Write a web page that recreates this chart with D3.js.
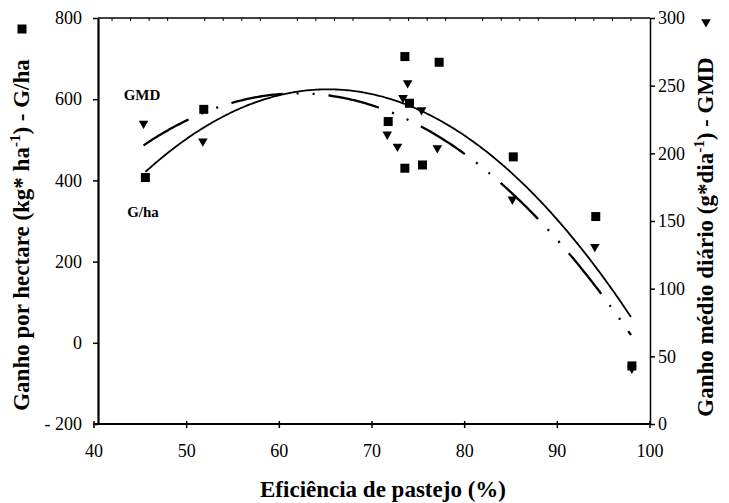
<!DOCTYPE html>
<html>
<head>
<meta charset="utf-8">
<script src="https://cdn.jsdelivr.net/npm/d3@7"></script>
<style>
  body { margin: 0; background: #fff; }
  svg text { font-family: "Liberation Serif", "Times New Roman", serif; fill: #000; }
  .axis path, .axis line { stroke: #000; }
</style>
</head>
<body>
<div id="chart"></div>
<script>
// G/ha (squares, left axis)
const ghaEficiencia = [45.6, 51.9, 73.6, 77.3, 74.1, 71.8, 73.6, 75.5, 85.3, 94.2, 98.1];
const ghaValores = [407, 575, 705, 691, 590, 545, 430, 438, 458, 311, -57];
// GMD (triangles, right axis)
const gmdEficiencia = [45.4, 51.8, 73.9, 73.4, 75.4, 71.7, 72.8, 77.1, 85.2, 94.1, 98.1];
const gmdValores = [222, 209, 252, 241, 232, 214, 205, 204, 166, 131, 41];

const xTicks = [40, 50, 60, 70, 80, 90, 100];
const yLeftTicks = [-200, 0, 200, 400, 600, 800];
const yRightTicks = [0, 50, 100, 150, 200, 250, 300];

// polinomial de 2a ordem (linha de tendencia)
function quadFit(xs, ys) {
  const s = [0, 0, 0, 0, 0], t = [0, 0, 0];
  xs.forEach((v, i) => {
    for (let k = 0; k < 5; k++) s[k] += Math.pow(v, k);
    for (let k = 0; k < 3; k++) t[k] += ys[i] * Math.pow(v, k);
  });
  const A = [[s[0], s[1], s[2], t[0]], [s[1], s[2], s[3], t[1]], [s[2], s[3], s[4], t[2]]];
  for (let i = 0; i < 3; i++) {
    for (let j = i + 1; j < 3; j++) {
      const f = A[j][i] / A[i][i];
      for (let k = i; k < 4; k++) A[j][k] -= f * A[i][k];
    }
  }
  const c = [0, 0, 0];
  for (let i = 2; i >= 0; i--) {
    let v = A[i][3];
    for (let k = i + 1; k < 3; k++) v -= A[i][k] * c[k];
    c[i] = v / A[i][i];
  }
  return v => c[0] + c[1] * v + c[2] * v * v;
}

const svg = d3.select('#chart').append('svg')
  .attr('width', 729).attr('height', 503);
svg.append('rect').attr('width', 729).attr('height', 503).attr('fill', '#fff');

const x = d3.scaleLinear().domain([40, 100]).range([93.5, 649.5]);
const yL = d3.scaleLinear().domain([-200, 800]).range([424, 18]);
const yR = d3.scaleLinear().domain([0, 300]).range([424, 18]);

// eixo x
const gx = svg.append('g').attr('class', 'axis')
  .attr('transform', 'translate(0,424)')
  .call(d3.axisBottom(x).tickValues(xTicks).tickSizeOuter(0).tickFormat(d => d));
gx.select('.domain').attr('stroke-width', 2).attr('d', `M${x(40)},0H${x(100)}`);
gx.selectAll('.tick line').attr('y1', -3).attr('y2', 4).attr('stroke-width', 1.5);
gx.selectAll('.tick text').attr('y', 20).attr('font-size', 18).attr('font-family', null);

// eixo esquerdo
const gl = svg.append('g').attr('class', 'axis')
  .attr('transform', 'translate(98,0)')
  .call(d3.axisLeft(yL).tickValues(yLeftTicks).tickSize(5).tickSizeOuter(0).tickPadding(11)
    .tickFormat(d => d < 0 ? '- ' + Math.abs(d) : d));
gl.select('.domain').attr('stroke-width', 2.2);
gl.selectAll('.tick line').attr('stroke-width', 1.5);
gl.selectAll('.tick text').attr('font-size', 18).attr('font-family', null);

// eixo direito
const gr = svg.append('g').attr('class', 'axis')
  .attr('transform', 'translate(650,0)')
  .call(d3.axisRight(yR).tickValues(yRightTicks).tickSize(5).tickSizeOuter(0).tickPadding(3));
gr.select('.domain').attr('stroke-width', 1.5);
gr.selectAll('.tick line').attr('stroke-width', 1.5);
gr.selectAll('.tick text').attr('font-size', 18).attr('font-family', null);

// borda superior com marcas secundarias
svg.append('line').attr('x1', 98).attr('x2', 650).attr('y1', 18).attr('y2', 18)
  .attr('stroke', '#000').attr('stroke-width', 1.5);
svg.selectAll('.minor')
  .data(d3.range(42, 100, 2).filter(v => v % 10 !== 0))
  .enter().append('line')
    .attr('class', 'minor')
    .attr('x1', d => x(d)).attr('x2', d => x(d))
    .attr('y1', 18).attr('y2', 21)
    .attr('stroke', '#000').attr('stroke-width', 1);

// linhas de tendencia
const fitGha = quadFit(ghaEficiencia, ghaValores);
const fitGmd = quadFit(gmdEficiencia, gmdValores);
const xsGha = d3.range(d3.min(ghaEficiencia), d3.max(ghaEficiencia) + 0.01, 0.2);
const xsGmd = d3.range(d3.min(gmdEficiencia), d3.max(gmdEficiencia) + 0.01, 0.2);

svg.append('path')
  .attr('d', d3.line().x(d => x(d)).y(d => yL(fitGha(d)))(xsGha))
  .attr('fill', 'none').attr('stroke', '#000').attr('stroke-width', 1.8);

svg.append('path')
  .attr('d', d3.line().x(d => x(d)).y(d => yR(fitGmd(d)))(xsGmd))
  .attr('fill', 'none').attr('stroke', '#000').attr('stroke-width', 2.3)
  .attr('stroke-dasharray', '52 14 2 14 2 14');

// pontos
const tri = d3.symbol().type(d3.symbolTriangle).size(40);
svg.selectAll('.gmd')
  .data(gmdEficiencia)
  .enter().append('path')
    .attr('class', 'gmd')
    .attr('d', tri)
    .attr('transform', (d, i) => `translate(${x(d)},${yR(gmdValores[i])}) rotate(180)`)
    .attr('fill', '#000');

svg.selectAll('.gha')
  .data(ghaEficiencia)
  .enter().append('rect')
    .attr('class', 'gha')
    .attr('x', d => x(d) - 4.5)
    .attr('y', (d, i) => yL(ghaValores[i]) - 4.5)
    .attr('width', 9).attr('height', 9)
    .attr('fill', '#000');

// rotulos das curvas
svg.append('text').attr('x', 142).attr('y', 100).attr('text-anchor', 'middle')
  .attr('font-size', 15).attr('font-weight', 'bold').text('GMD');
svg.append('text').attr('x', 143).attr('y', 217).attr('text-anchor', 'middle')
  .attr('font-size', 15).attr('font-weight', 'bold').text('G/ha');

// titulos
svg.append('text').attr('x', 383).attr('y', 497).attr('text-anchor', 'middle')
  .attr('font-size', 23).attr('font-weight', 'bold').text('Eficiência de pastejo (%)');

const tl = svg.append('text').attr('transform', 'translate(29,235) rotate(-90)')
  .attr('text-anchor', 'middle').attr('font-size', 23).attr('font-weight', 'bold');
tl.append('tspan').text('Ganho por hectare (kg* ha');
tl.append('tspan').attr('dy', -9).attr('font-size', 15).text('-1');
tl.append('tspan').attr('dy', 9).text(') - G/ha');

const tr = svg.append('text').attr('transform', 'translate(713,237) rotate(-90)')
  .attr('text-anchor', 'middle').attr('font-size', 23).attr('font-weight', 'bold');
tr.append('tspan').text('Ganho médio diário (g*dia');
tr.append('tspan').attr('dy', -9).attr('font-size', 15).text('-1');
tr.append('tspan').attr('dy', 9).text(') - GMD');

// marcadores da legenda
svg.append('rect').attr('x', 17.5).attr('y', 24.5).attr('width', 9).attr('height', 9).attr('fill', '#000');
svg.append('path').attr('d', tri).attr('transform', 'translate(706,22) rotate(180)').attr('fill', '#000');
</script>
</body>
</html>
